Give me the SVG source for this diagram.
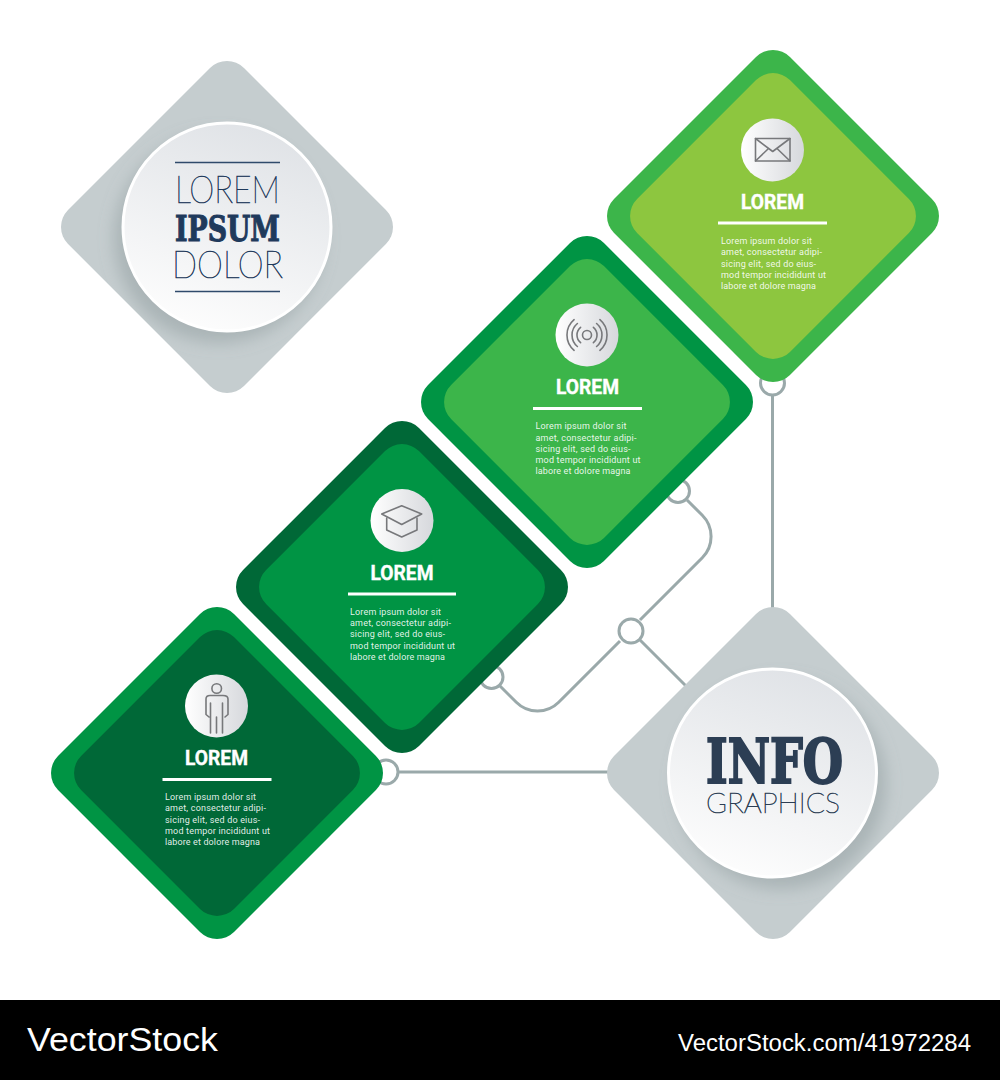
<svg xmlns="http://www.w3.org/2000/svg" width="1000" height="1080" viewBox="0 0 1000 1080">
<style>
.sq{x:-124.4px;y:-124.4px;width:248.8px;height:248.8px;rx:24px;ry:24px}
.in{x:-108.1px;y:-108.1px;width:216.2px;height:216.2px;rx:24px;ry:24px}
.gray{fill:#c5cdcf}
.cn{fill:none;stroke:#9aa9aa;stroke-width:3}
.dot{fill:#fff;stroke:#9aa9aa;stroke-width:3}
.ic{fill:none;stroke:#77787b;stroke-width:1.6;stroke-linejoin:round;stroke-linecap:round}
.ib{fill:url(#ig)}
.h{font-family:Roboto,"Liberation Sans",sans-serif;font-weight:700;font-size:19.5px;fill:#fff;stroke:#fff;stroke-width:.35px;text-anchor:middle}
.b{font-family:Roboto,"Liberation Sans",sans-serif;font-size:9px;fill:#fff;fill-opacity:.9}
.thin{font-family:Lato,"Liberation Sans",sans-serif;font-weight:100;stroke-width:.7px}
.slab{font-family:"DejaVu Serif",serif;font-weight:700}
.wm{font-family:"Liberation Sans",Arial,sans-serif;fill:#fff}
</style>
<defs>
<linearGradient id="cg" x1="0.7" y1="0" x2="0.35" y2="1"><stop offset="0" stop-color="#dfe2e6"/><stop offset="1" stop-color="#fdfdfd"/></linearGradient>
<linearGradient id="ig" x1="0" y1="0" x2="1" y2="0"><stop offset="0" stop-color="#fff"/><stop offset="1" stop-color="#d6d8dc"/></linearGradient>
<filter id="bl" x="-30%" y="-30%" width="160%" height="160%"><feGaussianBlur stdDeviation="8"/></filter>
<clipPath id="c1"><rect class="sq" transform="translate(227 227) rotate(45)"/></clipPath>
<clipPath id="c2"><rect class="sq" transform="translate(773 773) rotate(45)"/></clipPath>
</defs>
<rect width="1000" height="1080" fill="#fff"/>
<g id="connectors">
<path class="cn" d="M398 772H620"/>
<path class="cn" d="M772.500 383V620"/>
<path class="cn" d="M500 686L516.300 702.300A30 30 0 0 0 558.700 702.300L620 641"/>
<path class="cn" d="M640 620L702.300 557.700A30 30 0 0 0 702.300 515.300L687 500"/>
<path class="cn" d="M640 640L690 690"/>
<circle class="dot" cx="386" cy="772" r="12"/>
<circle class="dot" cx="772.500" cy="383" r="12"/>
<circle class="dot" cx="491.500" cy="677" r="11.500"/>
<circle class="dot" cx="678" cy="491" r="11.500"/>
<circle class="dot" cx="631" cy="631" r="12"/>
</g>
<g id="title">
<rect class="sq gray" transform="translate(227 227) rotate(45)"/>
<g clip-path="url(#c1)"><circle cx="219" cy="238" r="105" fill="#7f8c8d" fill-opacity=".38" filter="url(#bl)"/></g>
<circle cx="227" cy="227" r="104" fill="url(#cg)" stroke="#fff" stroke-width="3"/>
<path d="M175 162.500H280M175 291.500H280" stroke="#2f4a6b" stroke-width="1.500" fill="none"/>
<text class="thin" x="175" y="203" font-size="38" fill="#1f3a5c" stroke="#1f3a5c" textLength="105" lengthAdjust="spacingAndGlyphs">LOREM</text>
<text class="slab" x="175" y="240.500" font-size="35" fill="#1f3a5c" stroke="#1f3a5c" stroke-width="1.100" textLength="105" lengthAdjust="spacingAndGlyphs">IPSUM</text>
<text class="thin" x="172" y="278" font-size="38" fill="#1f3a5c" stroke="#1f3a5c" textLength="111" lengthAdjust="spacingAndGlyphs">DOLOR</text>
</g>
<g id="card-4">
<rect class="sq" fill="#3cb54a" transform="translate(773 216) rotate(45)"/>
<rect class="in" fill="#8dc63f" transform="translate(773 216) rotate(45)"/>
<circle class="ib" cx="772.500" cy="150" r="31.500"/>
<g class="ic"><rect x="755.500" y="138.500" width="34.500" height="22.500"/><path d="M755.500 138.500L772.700 151.500L790 138.500M755.500 161L768 149M790 161L777.500 149"/></g>
<text class="h" x="772.500" y="209" textLength="63" lengthAdjust="spacingAndGlyphs">LOREM</text>
<rect x="718" y="221.500" width="109" height="3" fill="#fff"/>
<g class="b"><text x="721" y="244" textLength="91">Lorem ipsum dolor sit</text><text x="721" y="255.300" textLength="101">amet, consectetur adipi-</text><text x="721" y="266.500" textLength="95">sicing elit, sed do eius-</text><text x="721" y="278" textLength="105">mod tempor incididunt ut</text><text x="721" y="289" textLength="95">labore et dolore magna</text></g>
</g>
<g id="card-3">
<rect class="sq" fill="#009444" transform="translate(587 402) rotate(45)"/>
<rect class="in" fill="#3cb54a" transform="translate(587 402) rotate(45)"/>
<circle class="ib" cx="587" cy="335" r="31.500"/>
<g class="ic"><circle cx="587" cy="335" r="4.500"/><path d="M580.600 327.300A10 10 0 0 0 580.600 342.700M593.400 327.300A10 10 0 0 1 593.400 342.700M577.400 323.500A15 15 0 0 0 577.400 346.500M596.600 323.500A15 15 0 0 1 596.600 346.500M574.100 319.700A20 20 0 0 0 574.100 350.300M599.900 319.700A20 20 0 0 1 599.900 350.300"/></g>
<text class="h" x="587.500" y="394" textLength="63" lengthAdjust="spacingAndGlyphs">LOREM</text>
<rect x="533" y="407" width="109" height="3" fill="#fff"/>
<g class="b"><text x="535.500" y="429.300" textLength="91">Lorem ipsum dolor sit</text><text x="535.500" y="440.600" textLength="101">amet, consectetur adipi-</text><text x="535.500" y="451.800" textLength="95">sicing elit, sed do eius-</text><text x="535.500" y="463.300" textLength="105">mod tempor incididunt ut</text><text x="535.500" y="474.300" textLength="95">labore et dolore magna</text></g>
</g>
<g id="card-2">
<rect class="sq" fill="#006837" transform="translate(402 587) rotate(45)"/>
<rect class="in" fill="#009444" transform="translate(402 587) rotate(45)"/>
<circle class="ib" cx="402" cy="520.500" r="31.500"/>
<g class="ic"><path d="M381.700 514L401.700 505.700L421.700 514L401.700 524.500Z"/><path d="M386.700 518V530L401.700 537L417 530V518"/></g>
<text class="h" x="402" y="579.500" textLength="63" lengthAdjust="spacingAndGlyphs">LOREM</text>
<rect x="348" y="592.500" width="108" height="3" fill="#fff"/>
<g class="b"><text x="350" y="614.700" textLength="91">Lorem ipsum dolor sit</text><text x="350" y="626" textLength="101">amet, consectetur adipi-</text><text x="350" y="637.200" textLength="95">sicing elit, sed do eius-</text><text x="350" y="648.700" textLength="105">mod tempor incididunt ut</text><text x="350" y="659.700" textLength="95">labore et dolore magna</text></g>
</g>
<g id="card-1">
<rect class="sq" fill="#009444" transform="translate(217 773) rotate(45)"/>
<rect class="in" fill="#006837" transform="translate(217 773) rotate(45)"/>
<circle class="ib" cx="216.500" cy="706" r="31.500"/>
<g class="ic"><circle cx="216.700" cy="688.500" r="4.800"/><path d="M210.500 733V703M222.500 733V703M216.500 717V733M209 717L206 714.500V699Q206 695.500 210 695.500H223Q228 695.500 228 699V714.500L225 717"/></g>
<text class="h" x="216.500" y="765" textLength="63" lengthAdjust="spacingAndGlyphs">LOREM</text>
<rect x="162.500" y="778" width="109" height="3" fill="#fff"/>
<g class="b"><text x="165" y="800" textLength="91">Lorem ipsum dolor sit</text><text x="165" y="811.300" textLength="101">amet, consectetur adipi-</text><text x="165" y="822.500" textLength="95">sicing elit, sed do eius-</text><text x="165" y="834" textLength="105">mod tempor incididunt ut</text><text x="165" y="845" textLength="95">labore et dolore magna</text></g>
</g>
<g id="infographics">
<rect class="sq gray" transform="translate(773 773) rotate(45)"/>
<g clip-path="url(#c2)"><circle cx="781" cy="784" r="105" fill="#7f8c8d" fill-opacity=".38" filter="url(#bl)"/></g>
<circle cx="772.500" cy="773" r="104" fill="url(#cg)" stroke="#fff" stroke-width="3"/>
<text class="slab" x="706" y="782.700" font-size="61" fill="#2c3e54" stroke="#2c3e54" stroke-width="2.200" textLength="137" lengthAdjust="spacingAndGlyphs">INFO</text>
<text class="thin" x="706" y="813" font-size="28.500" fill="#2c3e54" stroke="#2c3e54" textLength="134" lengthAdjust="spacingAndGlyphs">GRAPHICS</text>
</g>
<g id="footer">
<rect y="1000" width="1000" height="80" fill="#000"/>
<text class="wm" x="27" y="1051" font-size="34" textLength="191" lengthAdjust="spacingAndGlyphs">VectorStock</text>
<text class="wm" x="678" y="1051" font-size="23" textLength="293" lengthAdjust="spacingAndGlyphs">VectorStock.com/41972284</text>
</g>
</svg>
